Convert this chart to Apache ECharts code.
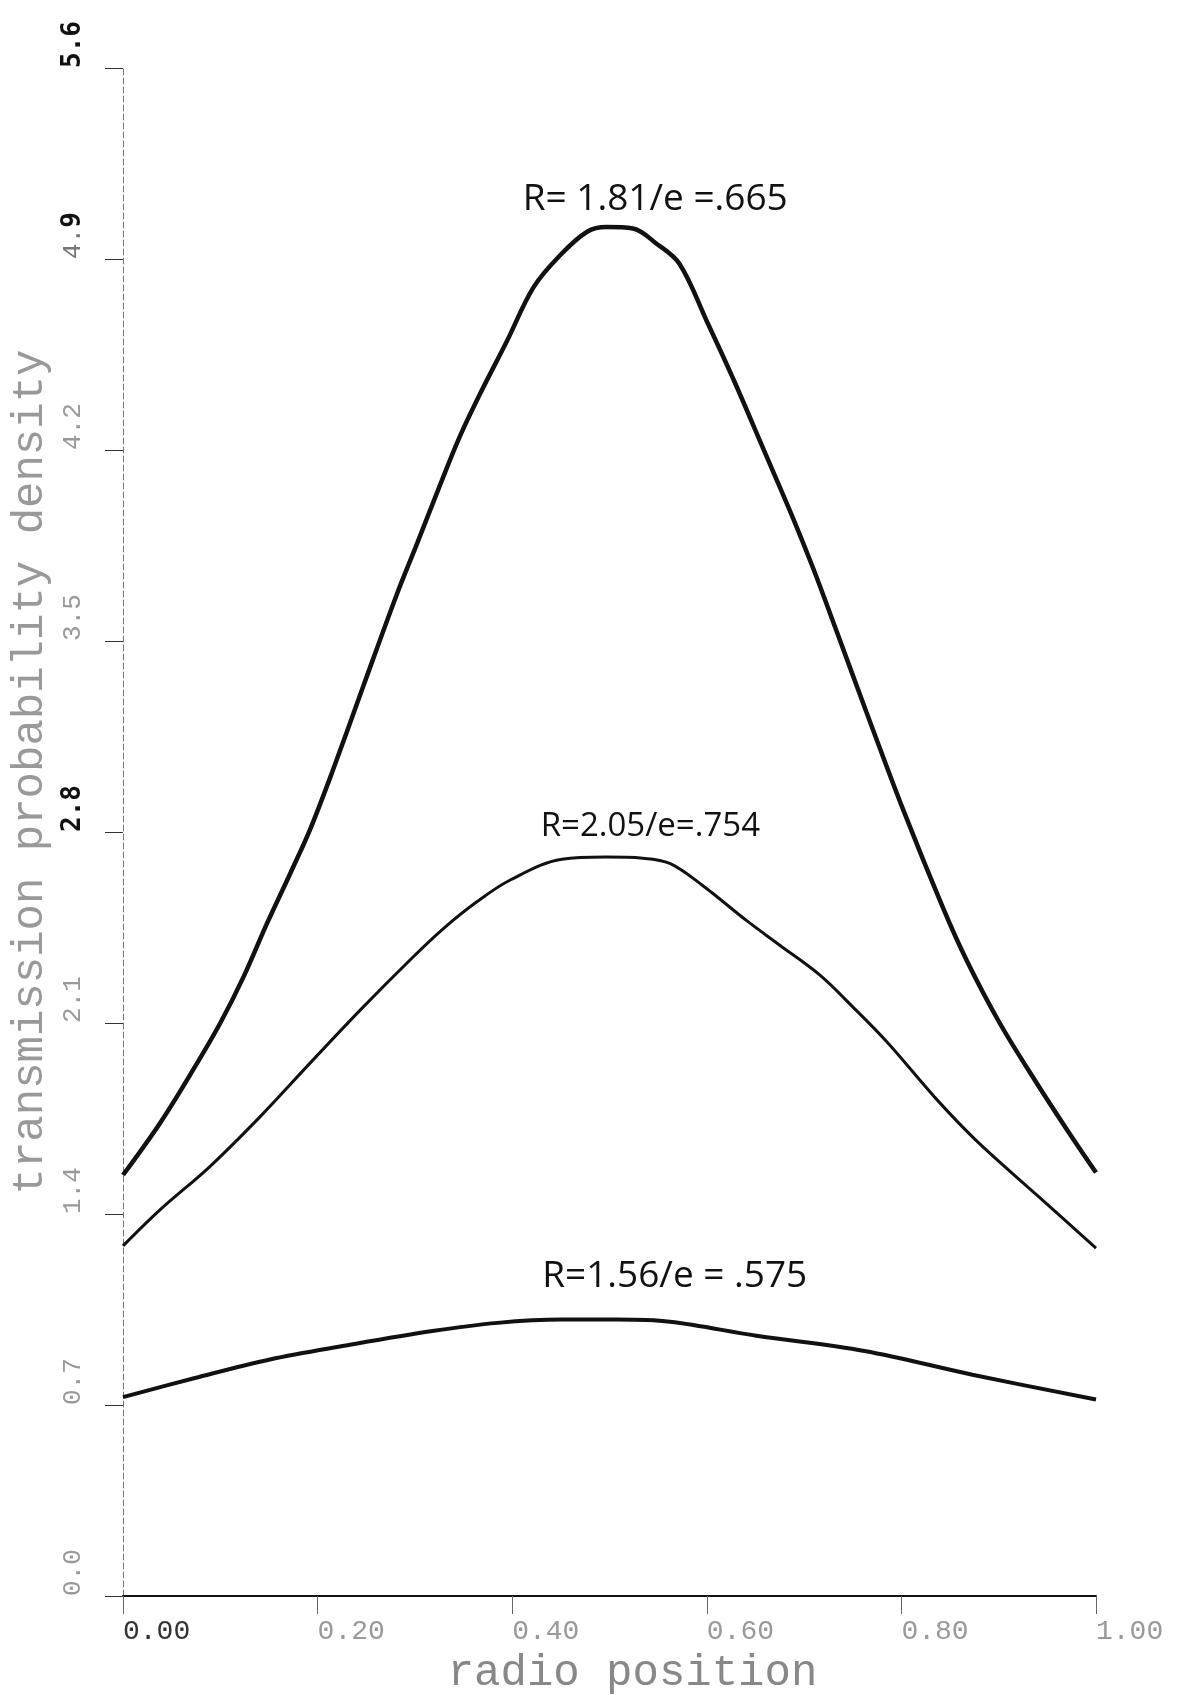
<!DOCTYPE html>
<html>
<head>
<meta charset="utf-8">
<script src="https://cdn.jsdelivr.net/npm/echarts@6/dist/echarts.min.js"></script>
<style>
html,body{margin:0;padding:0;background:#fff;overflow:hidden;}
#chart{width:1179px;height:1695px;}
</style>
</head>
<body>
<div id="chart"></div>
<script>
// ---- data ----
const xTop = [0, 0.038, 0.072, 0.100, 0.124, 0.148, 0.172, 0.192, 0.214, 0.247, 0.281, 0.302, 0.326, 0.346, 0.367, 0.394, 0.422, 0.449, 0.477, 0.497, 0.524, 0.548, 0.572, 0.600, 0.627, 0.658, 0.689, 0.710, 0.734, 0.764, 0.802, 0.843, 0.867, 0.901, 0.939, 0.970, 1.0];
const yTop = [1.543, 1.733, 1.928, 2.100, 2.270, 2.465, 2.649, 2.807, 3.010, 3.335, 3.667, 3.855, 4.073, 4.248, 4.406, 4.595, 4.797, 4.913, 5.000, 5.017, 5.012, 4.957, 4.882, 4.672, 4.462, 4.205, 3.947, 3.760, 3.530, 3.240, 2.880, 2.520, 2.330, 2.100, 1.880, 1.710, 1.552];

const xMid = [0, 0.038, 0.089, 0.141, 0.192, 0.244, 0.295, 0.329, 0.364, 0.398, 0.451, 0.496, 0.534, 0.562, 0.596, 0.641, 0.675, 0.716, 0.750, 0.785, 0.836, 0.877, 0.939, 1.0];
const yMid = [1.283, 1.415, 1.573, 1.757, 1.952, 2.148, 2.331, 2.445, 2.545, 2.624, 2.700, 2.708, 2.704, 2.685, 2.603, 2.475, 2.385, 2.276, 2.159, 2.031, 1.821, 1.669, 1.470, 1.275];

const xLow = [0.0, 0.074, 0.151, 0.229, 0.318, 0.385, 0.451, 0.507, 0.562, 0.651, 0.762, 0.873, 1.0];
const yLow = [0.729, 0.799, 0.867, 0.918, 0.971, 1.001, 1.013, 1.013, 1.005, 0.954, 0.898, 0.811, 0.720];

const curveLabels = ['R= 1.81/e =.665', 'R=2.05/e=.754', 'R=1.56/e = .575'];
const labelPos = [[0.547, 5.12], [0.542, 2.82], [0.567, 1.17]];

const yBold = ['5.6', '2.8'];

const xTitle = 'radio position';
const yTitle = 'transmission probability density';

function pairs(xs, ys){ return xs.map((x,i)=>[x, ys[i]]); }

function mark(i){
  return {
    silent: true,
    symbol: 'circle',
    symbolSize: 1,
    itemStyle: {color: 'rgba(0,0,0,0)'},
    label: {
      show: true,
      position: 'inside',
      formatter: curveLabels[i],
      fontFamily: 'Open Sans',
      fontSize: i === 1 ? 33 : 37,
      color: '#111'
    },
    data: [{coord: labelPos[i]}]
  };
}

const chart = echarts.init(document.getElementById('chart'), null, {renderer: 'canvas'});
chart.setOption({
  backgroundColor: '#fff',
  animation: false,
  grid: {left: 123, right: 83, top: 68, bottom: 99, containLabel: false, outerBoundsMode: 'none'},
  xAxis: {
    type: 'value', min: 0, max: 1, interval: 0.2,
    name: xTitle, nameLocation: 'middle', nameGap: 45,
    nameTextStyle: {fontFamily: 'Liberation Mono', fontSize: 44, color: '#888', padding: [0,0,0,46]},
    axisLine: {show: true, lineStyle: {color: '#111', width: 2}},
    axisTick: {show: true, length: 18, lineStyle: {color: '#666', width: 1}},
    axisLabel: {
      margin: 22, align: 'left',
      fontFamily: 'Liberation Mono', fontSize: 28, color: '#999',
      formatter: v => v === 0 ? '{d|0.00}' : v.toFixed(2),
      rich: {d: {fontFamily: 'Liberation Mono', fontSize: 28, color: '#333'}}
    },
    splitLine: {show: false}
  },
  yAxis: {
    type: 'value', min: 0, max: 5.6, interval: 0.7,
    name: yTitle, nameLocation: 'middle', nameGap: 70, nameRotate: 90,
    nameTextStyle: {fontFamily: 'Liberation Mono', fontSize: 44, color: '#999', padding: [0,0,0,120]},
    axisLine: {show: true, lineStyle: {color: '#777', width: 1, type: [6,3]}},
    axisTick: {show: true, length: 18, lineStyle: {color: '#333', width: 1}},
    axisLabel: {
      rotate: 90, margin: 37, align: 'left', verticalAlign: 'bottom',
      fontFamily: 'Liberation Mono', fontSize: 26, color: '#999',
      formatter: v => {
        const s = v.toFixed(1);
        if (yBold.includes(s)) return '{b|' + s + '}';
        if (s === '4.9') return '{n|4.}{b|9}';
        return s;
      },
      rich: {
        b: {fontFamily: 'DejaVu Sans Mono', fontWeight: 'bold', fontSize: 26, color: '#111'},
        n: {fontFamily: 'Liberation Mono', fontSize: 26, color: '#777'}
      }
    },
    splitLine: {show: false}
  },
  series: [
    {type: 'line', data: pairs(xTop, yTop), smooth: 0.35, symbol: 'none',
     lineStyle: {color: '#111', width: 4.5}, markPoint: mark(0)},
    {type: 'line', data: pairs(xMid, yMid), smooth: 0.35, symbol: 'none',
     lineStyle: {color: '#111', width: 3}, markPoint: mark(1)},
    {type: 'line', data: pairs(xLow, yLow), smooth: 0.35, symbol: 'none',
     lineStyle: {color: '#111', width: 4}, markPoint: mark(2)}
  ]
});
</script>
</body>
</html>
